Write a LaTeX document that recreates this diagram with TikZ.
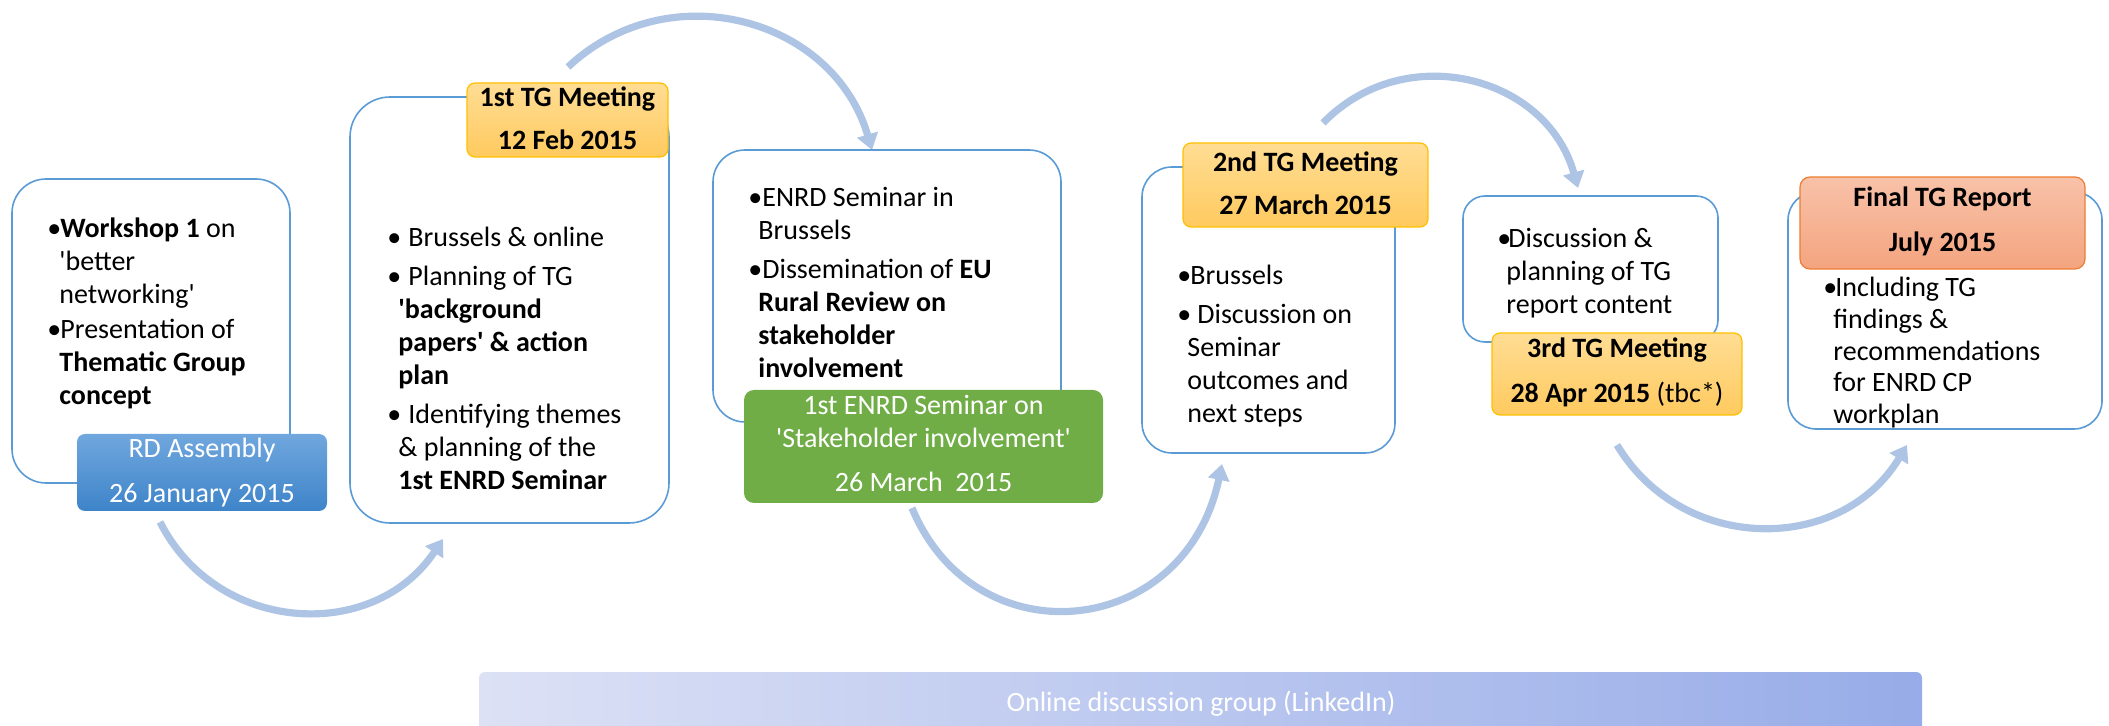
\documentclass[tikz,border=0pt]{standalone}
\usepackage{fontspec}
\setmainfont{Carlito}
\usetikzlibrary{arrows.meta,shadings}
\definecolor{boxblue}{HTML}{5B9BD5}
\definecolor{ortop}{HTML}{FFDD94}
\definecolor{orbot}{HTML}{FFCA5F}
\definecolor{orline}{HTML}{FFC000}
\definecolor{bltop}{HTML}{70A7DE}
\definecolor{blbot}{HTML}{3E84C9}
\definecolor{grfill}{HTML}{70AD47}
\definecolor{satop}{HTML}{F8C2A9}
\definecolor{sabot}{HTML}{F4A47F}
\definecolor{saline}{HTML}{ED7D31}
\definecolor{barl}{HTML}{DCE1F5}
\definecolor{barr}{HTML}{97ACE8}
\definecolor{flowc}{HTML}{AEC4E5}
\newcommand\mybul[1]{\makebox[#1][l]{•}}
\newcommand\sq{\textquotesingle}
\begin{document}
\begin{tikzpicture}[x=0.5pt,y=-0.5pt,
  box/.style={draw=boxblue, line width=0.8pt, fill=white, rounded corners=#1, inner sep=0pt},
  lblor/.style={draw=orline, line width=0.6pt, top color=ortop, bottom color=orbot, rounded corners=4pt, inner sep=0pt},
  lblbl/.style={top color=bltop, bottom color=blbot, rounded corners=4pt, inner sep=0pt},
  lblgr/.style={fill=grfill, rounded corners=5pt, inner sep=0pt},
  lblsa/.style={draw=saline, line width=0.6pt, top color=satop, bottom color=sabot, rounded corners=5pt, inner sep=0pt},
  barbox/.style={left color=barl, right color=barr, rounded corners=3pt, inner sep=0pt},
  txt/.style={anchor=base west, inner sep=0pt, font=\fontsize{14pt}{16.5pt}\selectfont},
  lt/.style={anchor=base, inner sep=0pt, font=\fontsize{14pt}{16.5pt}\selectfont},
  flow/.style={draw=flowc, line width=3.6pt, -{Triangle[width=10.5pt,length=8pt]}}
]
\useasboundingbox (0,0) rectangle (2109,726);

% arrow end points
\coordinate (a1s) at (160,522);  \coordinate (a1e) at (443,539);
\coordinate (a2s) at (568,67);   \coordinate (a2e) at (872,150);
\coordinate (a3s) at (912,508);  \coordinate (a3e) at (1222,464);
\coordinate (a4s) at (1323,123); \coordinate (a4e) at (1578,188);
\coordinate (a5s) at (1617,445); \coordinate (a5e) at (1907,445);

\draw[flow] (a1s) .. controls (216.7,634) and (373.3,643.4) .. (a1e);
\draw[flow] (a2s) .. controls (668.7,-27.3) and (833.2,17.6) .. (a2e);
\draw[flow] (a3s) .. controls (975,660) and (1185,640) .. (a3e);
\draw[flow] (a4s) .. controls (1404.6,39.1) and (1546.5,75.3) .. (a4e);
\draw[flow] (a5s) .. controls (1682.7,554.4) and (1841.3,554.4) .. (a5e);

% boxes
\node[box=17pt, minimum width=139pt, minimum height=152pt] (b1) at (151,331) {};
\node[box=20pt, minimum width=159.5pt, minimum height=213pt] (b2) at (509.5,310) {};
\node[box=16pt, minimum width=174pt, minimum height=136pt] (b3) at (887,286) {};
\node[box=15pt, minimum width=126.5pt, minimum height=143pt] (b4) at (1268.5,310) {};
\node[box=11pt, minimum width=127.5pt, minimum height=73pt] (b5) at (1590.5,269) {};
\node[box=14pt, minimum width=157pt, minimum height=118.5pt] (b6) at (1945,310.5) {};

% labels
\node[lblbl, minimum width=125pt, minimum height=38.5pt] (l1) at (202,472.5) {};
\node[lblor, minimum width=100.5pt, minimum height=37pt] (l2) at (567.5,120) {};
\node[lblgr, minimum width=179.5pt, minimum height=56.5pt] (l3) at (923.5,446.5) {};
\node[lblor, minimum width=122.5pt, minimum height=42pt] (l4) at (1305.5,185) {};
\node[lblor, minimum width=125pt, minimum height=41pt] (l5) at (1617,374) {};
\node[lblsa, minimum width=142.5pt, minimum height=46pt] (l6) at (1942.5,223) {};

% bottom bar
\node[barbox, minimum width=721.5pt, minimum height=34pt] (bar) at (1200.5,706) {};
\node[lt, text=white] (bart) at (1201,711) {Online discussion group (LinkedIn)};

% label texts
\node[lt, text=white] (l1t) at (202,458) {\parbox[t]{125pt}{\centering RD Assembly\\[6pt]26 January 2015}};
\node[lt] (l2t) at (567.5,107) {\parbox[t]{110pt}{\centering\bfseries 1st TG Meeting\\[5pt]12 Feb 2015}};
\node[lt, text=white] (l3t) at (923.5,415) {\parbox[t]{179pt}{\centering 1st ENRD Seminar on\\\sq Stakeholder involvement\sq\\[5.5pt]26 March\ \ 2015}};
\node[lt] (l4t) at (1305.5,172) {\parbox[t]{122pt}{\centering\bfseries 2nd TG Meeting\\[5pt]27 March 2015}};
\node[lt] (l5t) at (1617,358) {\parbox[t]{125pt}{\centering\textbf{3rd TG Meeting}\\[6pt]\textbf{28 Apr 2015} (tbc*)}};
\node[lt] (l6t) at (1942.5,207) {\parbox[t]{142pt}{\centering\bfseries Final TG Report\\[6pt]July 2015}};

% body texts
\node[txt] (t1) at (47,238) {\parbox[t]{135pt}{%
\mybul{6.5pt}\textbf{Workshop 1} on\\
\hspace*{6pt}\sq better\\
\hspace*{6pt}networking\sq\\[1pt]
\mybul{6.5pt}Presentation of\\
\hspace*{6pt}\textbf{Thematic Group}\\
\hspace*{6pt}\textbf{concept}}};

\node[txt] (t2) at (387,247) {\parbox[t]{140pt}{%
\mybul{10.5pt}Brussels \& online\\[3pt]
\mybul{10.5pt}Planning of TG\\
\hspace*{5.5pt}\textbf{\sq background}\\
\hspace*{5.5pt}\textbf{papers\sq\ \& action}\\
\hspace*{5.5pt}\textbf{plan}\\[3pt]
\mybul{10.5pt}Identifying themes\\
\hspace*{5.5pt}\& planning of the\\
\hspace*{5.5pt}\textbf{1st ENRD Seminar}}};

\node[txt] (t3) at (748,207) {\parbox[t]{150pt}{%
\mybul{7pt}ENRD Seminar in\\
\hspace*{5pt}Brussels\\[3pt]
\mybul{7pt}Dissemination of \textbf{EU}\\
\hspace*{5pt}\textbf{Rural Review on}\\
\hspace*{5pt}\textbf{stakeholder}\\
\hspace*{5pt}\textbf{involvement}}};

\node[txt] (t4) at (1177,285) {\parbox[t]{115pt}{%
\mybul{6.5pt}Brussels\\[3pt]
\mybul{10pt}Discussion on\\
\hspace*{5pt}Seminar\\
\hspace*{5pt}outcomes and\\
\hspace*{5pt}next steps}};

\node[txt] (t5) at (1497,248) {\parbox[t]{110pt}{%
\mybul{5.5pt}Discussion \&\\
\hspace*{4.5pt}planning of TG\\
\hspace*{4.5pt}report content}};

\node[txt] (t6) at (1823,297) {\parbox[t]{135pt}{\fontsize{14pt}{15.8pt}\selectfont
\mybul{6pt}Including TG\\
\hspace*{5pt}findings \&\\
\hspace*{5pt}recommendations\\
\hspace*{5pt}for ENRD CP\\
\hspace*{5pt}workplan}};
\end{tikzpicture}
\end{document}
